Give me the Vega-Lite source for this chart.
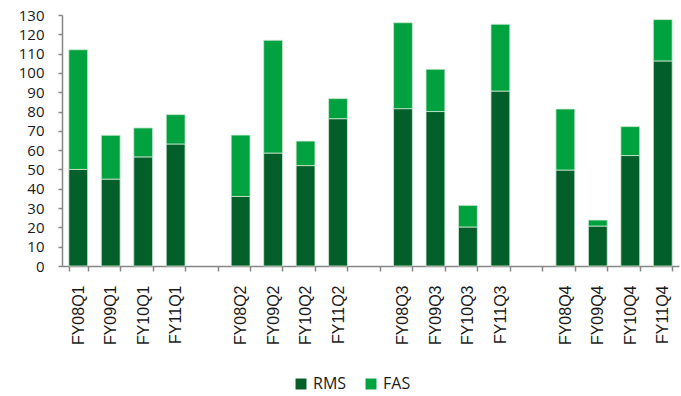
{
  "$schema": "https://vega.github.io/schema/vega-lite/v6.json",
  "width": 617,
  "height": 251,
  "autosize": {"type": "none"},
  "padding": {"left": 62, "top": 15, "right": 2, "bottom": 130},
  "background": "white",
  "config": {"view": {"stroke": null}},
  "data": {
    "values": [
      {"quarter": "FY08Q1", "series": "RMS", "value": 50},
      {"quarter": "FY08Q1", "series": "FAS", "value": 62},
      {"quarter": "FY09Q1", "series": "RMS", "value": 45},
      {"quarter": "FY09Q1", "series": "FAS", "value": 22.7},
      {"quarter": "FY10Q1", "series": "RMS", "value": 56.5},
      {"quarter": "FY10Q1", "series": "FAS", "value": 15},
      {"quarter": "FY11Q1", "series": "RMS", "value": 63.2},
      {"quarter": "FY11Q1", "series": "FAS", "value": 15.2},
      {"quarter": "FY08Q2", "series": "RMS", "value": 36},
      {"quarter": "FY08Q2", "series": "FAS", "value": 31.8},
      {"quarter": "FY09Q2", "series": "RMS", "value": 58.5},
      {"quarter": "FY09Q2", "series": "FAS", "value": 58.4},
      {"quarter": "FY10Q2", "series": "RMS", "value": 52},
      {"quarter": "FY10Q2", "series": "FAS", "value": 12.7},
      {"quarter": "FY11Q2", "series": "RMS", "value": 76.3},
      {"quarter": "FY11Q2", "series": "FAS", "value": 10.4},
      {"quarter": "FY08Q3", "series": "RMS", "value": 81.5},
      {"quarter": "FY08Q3", "series": "FAS", "value": 44.5},
      {"quarter": "FY09Q3", "series": "RMS", "value": 80},
      {"quarter": "FY09Q3", "series": "FAS", "value": 21.9},
      {"quarter": "FY10Q3", "series": "RMS", "value": 20.2},
      {"quarter": "FY10Q3", "series": "FAS", "value": 11.2},
      {"quarter": "FY11Q3", "series": "RMS", "value": 90.6},
      {"quarter": "FY11Q3", "series": "FAS", "value": 34.6},
      {"quarter": "FY08Q4", "series": "RMS", "value": 49.7},
      {"quarter": "FY08Q4", "series": "FAS", "value": 31.6},
      {"quarter": "FY09Q4", "series": "RMS", "value": 20.7},
      {"quarter": "FY09Q4", "series": "FAS", "value": 3.1},
      {"quarter": "FY10Q4", "series": "RMS", "value": 57.2},
      {"quarter": "FY10Q4", "series": "FAS", "value": 15},
      {"quarter": "FY11Q4", "series": "RMS", "value": 106.2},
      {"quarter": "FY11Q4", "series": "FAS", "value": 21.4}
    ]
  },
  "mark": {"type": "bar", "stroke": "#cfe8d2", "strokeWidth": 0.8},
  "encoding": {
    "x": {
      "field": "quarter",
      "type": "nominal",
      "title": null,
      "scale": {
        "domain": ["FY08Q1", "FY09Q1", "FY10Q1", "FY11Q1", " ",
                   "FY08Q2", "FY09Q2", "FY10Q2", "FY11Q2", "  ",
                   "FY08Q3", "FY09Q3", "FY10Q3", "FY11Q3", "   ",
                   "FY08Q4", "FY09Q4", "FY10Q4", "FY11Q4"],
        "paddingInner": 0.42,
        "paddingOuter": 0.21
      },
      "axis": {
        "labelAngle": -90,
        "labelAlign": "right",
        "labelBaseline": "middle",
        "labelFont": "Liberation Sans",
        "labelFontSize": 16,
        "labelColor": "#1a1a1a",
        "labelPadding": 14,
        "tickBand": "extent",
        "tickSize": 5,
        "tickColor": "#868686",
        "domainColor": "#868686",
        "domainWidth": 1.5,
        "tickWidth": 1.5
      }
    },
    "y": {
      "field": "value",
      "type": "quantitative",
      "aggregate": "sum",
      "stack": "zero",
      "title": null,
      "scale": {"domain": [0, 130], "nice": false},
      "axis": {
        "values": [0, 10, 20, 30, 40, 50, 60, 70, 80, 90, 100, 110, 120, 130],
        "grid": false,
        "labelFont": "Open Sans",
        "labelFontSize": 15,
        "labelColor": "#1a1a1a",
        "labelPadding": 14,
        "tickSize": 4,
        "tickColor": "#868686",
        "domainColor": "#868686",
        "domainWidth": 1.5,
        "tickWidth": 1.5
      }
    },
    "color": {
      "field": "series",
      "type": "nominal",
      "scale": {"domain": ["RMS", "FAS"], "range": ["#025F2A", "#00A13F"]},
      "legend": {
        "title": null,
        "orient": "none",
        "direction": "horizontal",
        "legendX": 231,
        "legendY": 361,
        "symbolType": "square",
        "symbolSize": 120,
        "symbolStrokeWidth": 0,
        "labelFont": "Open Sans",
        "labelFontSize": 16,
        "labelColor": "#1a1a1a",
        "columnPadding": 16,
        "labelOffset": 4
      }
    },
    "order": {"field": "series", "sort": "descending"}
  }
}
